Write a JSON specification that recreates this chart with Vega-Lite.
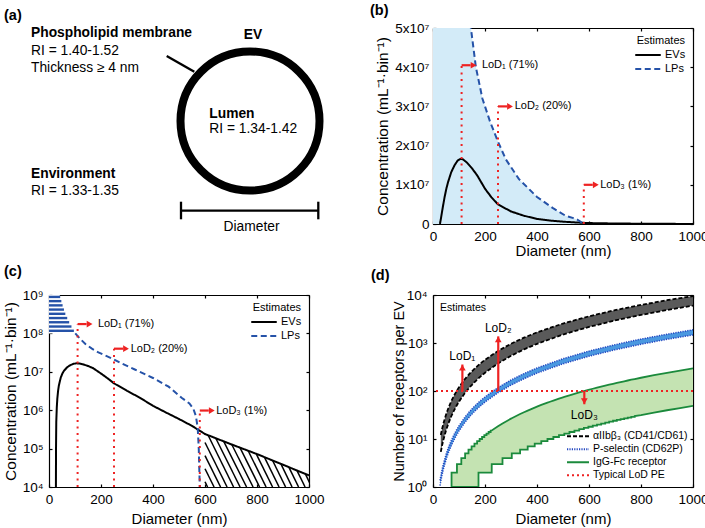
{
  "$schema": "https://vega.github.io/schema/vega-lite/v6.json",
  "padding": {"left": 3, "top": 3, "right": 0, "bottom": 0},
  "bounds": "flush",
  "columns": 2,
  "spacing": {"row": 71, "column": 124},
  "resolve": {"scale": {"color": "independent", "strokeDash": "independent"}},
  "config": {
    "font": "Liberation Sans",
    "view": {"stroke": null},
    "axis": {"domainColor": "#000", "domainWidth": 1.2, "tickColor": "#000", "tickWidth": 1.2, "tickSize": -3, "labelColor": "#000", "titleColor": "#000", "labelFontSize": 13.5, "titleFontSize": 15, "titleFontWeight": "normal", "grid": false, "labelFlush": false, "labelOverlap": false, "zindex": 1, "labelPadding": 8},
    "title": {"anchor": "start", "frame": "group", "fontSize": 14.5, "fontWeight": "bold", "color": "#000"},
    "legend": {"labelFontSize": 11, "titleFontSize": 11, "titleFontWeight": "normal", "labelColor": "#000", "titleColor": "#000", "symbolType": "stroke", "symbolStrokeWidth": 2, "padding": 0}
  },
  "datasets": {
    "aLines": [
      {"u": 117.7, "v": 28, "u2": 145.3, "v2": 43.7},
      {"u": 132, "v": 182.7, "u2": 269.3, "v2": 182.7},
      {"u": 132, "v": 173.7, "u2": 132, "v2": 191.3},
      {"u": 269.3, "v": 173.7, "u2": 269.3, "v2": 191.3}
    ],
    "aCircle": [{"u": 201, "v": 93}],
    "aBoldLeft": [
      {"u": -18, "v": 9, "t": "Phospholipid membrane"},
      {"u": 160.3, "v": 90, "t": "Lumen"},
      {"u": -18, "v": 149.7, "t": "Environment"}
    ],
    "aLeft": [
      {"u": -18, "v": 27, "t": "RI = 1.40-1.52"},
      {"u": -18, "v": 43.7, "t": "Thickness ≥ 4 nm"},
      {"u": 160.3, "v": 105, "t": "RI = 1.34-1.42"},
      {"u": -18, "v": 167, "t": "RI = 1.33-1.35"}
    ],
    "aBoldCenter": [{"u": 204, "v": 11.3, "t": "EV"}],
    "aCenter": [{"u": 202.5, "v": 202.7, "t": "Diameter"}],
    "bc": [
      {"d": 25, "c": 1, "s": "EVs"},
      {"d": 27, "c": 100000, "s": "EVs"},
      {"d": 28, "c": 500000, "s": "EVs"},
      {"d": 30, "c": 1200000, "s": "EVs"},
      {"d": 32, "c": 2000000, "s": "EVs"},
      {"d": 35, "c": 3200000, "s": "EVs"},
      {"d": 38, "c": 4400000, "s": "EVs"},
      {"d": 45, "c": 7000000, "s": "EVs"},
      {"d": 52, "c": 9200000, "s": "EVs"},
      {"d": 58, "c": 10700000, "s": "EVs"},
      {"d": 70, "c": 13200000, "s": "EVs"},
      {"d": 83, "c": 15000000, "s": "EVs"},
      {"d": 95, "c": 16200000, "s": "EVs"},
      {"d": 105, "c": 16600000, "s": "EVs"},
      {"d": 115, "c": 16500000, "s": "EVs"},
      {"d": 130, "c": 15700000, "s": "EVs"},
      {"d": 150, "c": 14200000, "s": "EVs"},
      {"d": 170, "c": 12400000, "s": "EVs"},
      {"d": 200, "c": 9000000, "s": "EVs"},
      {"d": 225, "c": 6800000, "s": "EVs"},
      {"d": 250, "c": 5000000, "s": "EVs"},
      {"d": 300, "c": 3200000, "s": "EVs"},
      {"d": 350, "c": 2100000, "s": "EVs"},
      {"d": 400, "c": 1300000, "s": "EVs"},
      {"d": 450, "c": 870000, "s": "EVs"},
      {"d": 500, "c": 590000, "s": "EVs"},
      {"d": 550, "c": 390000, "s": "EVs"},
      {"d": 580, "c": 290000, "s": "EVs"},
      {"d": 600, "c": 240000, "s": "EVs"},
      {"d": 700, "c": 130000, "s": "EVs"},
      {"d": 800, "c": 72000, "s": "EVs"},
      {"d": 900, "c": 38000, "s": "EVs"},
      {"d": 1000, "c": 20000, "s": "EVs"},
      {"d": 0, "c": 100000000000, "s": "LPs"},
      {"d": 10, "c": 30000000000, "s": "LPs"},
      {"d": 20, "c": 6000000000, "s": "LPs"},
      {"d": 30, "c": 2300000000, "s": "LPs"},
      {"d": 41, "c": 1000000000, "s": "LPs"},
      {"d": 50, "c": 600000000, "s": "LPs"},
      {"d": 63, "c": 320000000, "s": "LPs"},
      {"d": 80, "c": 180000000, "s": "LPs"},
      {"d": 95, "c": 120000000, "s": "LPs"},
      {"d": 101, "c": 100000000, "s": "LPs"},
      {"d": 120, "c": 72000000, "s": "LPs"},
      {"d": 140, "c": 53000000, "s": "LPs"},
      {"d": 165, "c": 40000000, "s": "LPs"},
      {"d": 190, "c": 32000000, "s": "LPs"},
      {"d": 220, "c": 26000000, "s": "LPs"},
      {"d": 250, "c": 21000000, "s": "LPs"},
      {"d": 280, "c": 16500000, "s": "LPs"},
      {"d": 330, "c": 11500000, "s": "LPs"},
      {"d": 400, "c": 6900000, "s": "LPs"},
      {"d": 460, "c": 4100000, "s": "LPs"},
      {"d": 510, "c": 2100000, "s": "LPs"},
      {"d": 540, "c": 1500000, "s": "LPs"},
      {"d": 555, "c": 1100000, "s": "LPs"},
      {"d": 565, "c": 700000, "s": "LPs"},
      {"d": 572, "c": 350000, "s": "LPs"},
      {"d": 576, "c": 100000, "s": "LPs"},
      {"d": 578, "c": 30000, "s": "LPs"},
      {"d": 580, "c": 10000, "s": "LPs"},
      {"d": 582, "c": 1000, "s": "LPs"}
    ],
    "lpTop": [
      {"d": 0, "c": 100000000000, "b8": 100000000},
      {"d": 10, "c": 30000000000, "b8": 100000000},
      {"d": 20, "c": 6000000000, "b8": 100000000},
      {"d": 30, "c": 2300000000, "b8": 100000000},
      {"d": 41, "c": 1000000000, "b8": 100000000},
      {"d": 50, "c": 600000000, "b8": 100000000},
      {"d": 63, "c": 320000000, "b8": 100000000},
      {"d": 80, "c": 180000000, "b8": 100000000},
      {"d": 95, "c": 120000000, "b8": 100000000},
      {"d": 101, "c": 100000000, "b8": 100000000}
    ],
    "lod": [
      {"d": 110, "b0": 0, "b4": 10000, "tb": 40500000, "tc": 175000000, "lx": 188, "lab": "LoD₁ (71%)"},
      {"d": 250, "b0": 0, "b4": 10000, "tb": 30000000, "tc": 40000000, "lx": 314, "lab": "LoD₂ (20%)"},
      {"d": 580, "b0": 0, "b4": 10000, "tb": 10000000, "tc": 980000, "lx": 643, "lab": "LoD₃ (1%)"}
    ],
    "hh": [
      {"x0": 0, "lv": 891000000, "xe": 43},
      {"x0": 0, "lv": 692000000, "xe": 47.5},
      {"x0": 0, "lv": 537000000, "xe": 52.3},
      {"x0": 0, "lv": 417000000, "xe": 57.5},
      {"x0": 0, "lv": 324000000, "xe": 62.8},
      {"x0": 0, "lv": 251000000, "xe": 70.1},
      {"x0": 0, "lv": 195000000, "xe": 77.6},
      {"x0": 0, "lv": 151000000, "xe": 86.4},
      {"x0": 0, "lv": 117000000, "xe": 95.7}
    ],
    "hd": [
      {"k": 0, "d": 600, "c": 13700}, {"k": 0, "d": 610, "c": 10000},
      {"k": 1, "d": 600, "c": 29900}, {"k": 1, "d": 635, "c": 10000},
      {"k": 2, "d": 600, "c": 65600}, {"k": 2, "d": 660, "c": 10000},
      {"k": 3, "d": 600, "c": 144000}, {"k": 3, "d": 685, "c": 10000},
      {"k": 4, "d": 612, "c": 223000}, {"k": 4, "d": 710, "c": 10000},
      {"k": 5, "d": 641.5, "c": 186000}, {"k": 5, "d": 735, "c": 10000},
      {"k": 6, "d": 672, "c": 154000}, {"k": 6, "d": 760, "c": 10000},
      {"k": 7, "d": 703, "c": 128000}, {"k": 7, "d": 785, "c": 10000},
      {"k": 8, "d": 734.5, "c": 106000}, {"k": 8, "d": 810, "c": 10000},
      {"k": 9, "d": 766, "c": 88000}, {"k": 9, "d": 835, "c": 10000},
      {"k": 10, "d": 797, "c": 73000}, {"k": 10, "d": 860, "c": 10000},
      {"k": 11, "d": 828.5, "c": 60000}, {"k": 11, "d": 885, "c": 10000},
      {"k": 12, "d": 860, "c": 49000}, {"k": 12, "d": 910, "c": 10000},
      {"k": 13, "d": 892, "c": 39900}, {"k": 13, "d": 935, "c": 10000},
      {"k": 14, "d": 922, "c": 33300}, {"k": 14, "d": 960, "c": 10000},
      {"k": 15, "d": 953, "c": 27600}, {"k": 15, "d": 985, "c": 10000},
      {"k": 16, "d": 986, "c": 22000}, {"k": 16, "d": 1010, "c": 10000}
    ],
    "band": [
      {"d": 27, "au": null, "al": null, "pu": 1.37, "pl": 1.07},
      {"d": 30, "au": 12.15, "al": 5.41, "pu": 1.69, "pl": 1.33},
      {"d": 35, "au": 16.28, "al": 7.36, "pu": 2.31, "pl": 1.81},
      {"d": 40, "au": 20.98, "al": 9.62, "pu": 3.01, "pl": 2.36},
      {"d": 50, "au": 32.06, "al": 15.02, "pu": 4.71, "pl": 3.69},
      {"d": 60, "au": 45.35, "al": 21.63, "pu": 6.78, "pl": 5.31},
      {"d": 70, "au": 60.76, "al": 29.44, "pu": 9.22, "pl": 7.22},
      {"d": 80, "au": 78.3, "al": 38.46, "pu": 12.05, "pl": 9.43},
      {"d": 90, "au": 97.9, "al": 48.67, "pu": 15.24, "pl": 11.94},
      {"d": 100, "au": 119.7, "al": 60.09, "pu": 18.83, "pl": 14.74},
      {"d": 120, "au": 169.2, "al": 86.5, "pu": 27.11, "pl": 21.23},
      {"d": 140, "au": 226.7, "al": 117.8, "pu": 36.9, "pl": 28.9},
      {"d": 160, "au": 292.2, "al": 153.8, "pu": 48.2, "pl": 37.7},
      {"d": 180, "au": 365.6, "al": 194.7, "pu": 61.0, "pl": 47.8},
      {"d": 200, "au": 446.4, "al": 240.4, "pu": 75.3, "pl": 59.0},
      {"d": 250, "au": 682.3, "al": 375.6, "pu": 117.6, "pl": 92.1},
      {"d": 300, "au": 964.7, "al": 540.8, "pu": 169.4, "pl": 132.7},
      {"d": 350, "au": 1293, "al": 736.2, "pu": 230.6, "pl": 180.6},
      {"d": 400, "au": 1667, "al": 961.6, "pu": 301.3, "pl": 235.9},
      {"d": 500, "au": 2547, "al": 1502, "pu": 470.6, "pl": 368.6},
      {"d": 600, "au": 3601, "al": 2163, "pu": 678, "pl": 531},
      {"d": 700, "au": 4827, "al": 2944, "pu": 922, "pl": 722},
      {"d": 800, "au": 6220, "al": 3846, "pu": 1205, "pl": 943},
      {"d": 900, "au": 7778, "al": 4867, "pu": 1524, "pl": 1194},
      {"d": 1000, "au": 9504, "al": 6009, "pu": 1883, "pl": 1474}
    ],
    "gb": [
      {"d": 71.3, "gu": 1, "gl": 1}, {"d": 71.3, "gu": 2, "gl": 1},
      {"d": 92.1, "gu": 2, "gl": 1}, {"d": 92.1, "gu": 3, "gl": 1},
      {"d": 108.9, "gu": 3, "gl": 1}, {"d": 108.9, "gu": 4, "gl": 1},
      {"d": 123.5, "gu": 4, "gl": 1}, {"d": 123.5, "gu": 5, "gl": 1},
      {"d": 136.5, "gu": 5, "gl": 1}, {"d": 136.5, "gu": 6, "gl": 1},
      {"d": 148.4, "gu": 6, "gl": 1}, {"d": 148.4, "gu": 7, "gl": 1},
      {"d": 159.4, "gu": 7, "gl": 1}, {"d": 159.4, "gu": 8, "gl": 1},
      {"d": 169.7, "gu": 8, "gl": 1}, {"d": 169.7, "gu": 9, "gl": 1},
      {"d": 175, "gu": 9, "gl": 1}, {"d": 175, "gu": 9, "gl": 2},
      {"d": 179.4, "gu": 9, "gl": 2}, {"d": 179.4, "gu": 10, "gl": 2},
      {"d": 188.7, "gu": 10, "gl": 2}, {"d": 188.7, "gu": 11, "gl": 2},
      {"d": 197.4, "gu": 11, "gl": 2}, {"d": 197.4, "gu": 12, "gl": 2},
      {"d": 205.8, "gu": 12, "gl": 2}, {"d": 205.8, "gu": 13, "gl": 2},
      {"d": 213.9, "gu": 13, "gl": 2}, {"d": 213.9, "gu": 14, "gl": 2},
      {"d": 221.7, "gu": 14, "gl": 2}, {"d": 221.7, "gu": 15, "gl": 2},
      {"d": 225.9, "gu": 15.1, "gl": 2}, {"d": 225.9, "gu": 15.1, "gl": 3},
      {"d": 250, "gu": 18.4, "gl": 3},
      {"d": 267.3, "gu": 21.1, "gl": 3}, {"d": 267.3, "gu": 21.1, "gl": 4},
      {"d": 300, "gu": 26.6, "gl": 4},
      {"d": 303, "gu": 27.1, "gl": 4}, {"d": 303, "gu": 27.1, "gl": 5},
      {"d": 335, "gu": 33.1, "gl": 5}, {"d": 335, "gu": 33.1, "gl": 6},
      {"d": 350, "gu": 36.1, "gl": 6},
      {"d": 364.2, "gu": 39.1, "gl": 6}, {"d": 364.2, "gu": 39.1, "gl": 7},
      {"d": 391.2, "gu": 45.1, "gl": 7}, {"d": 391.2, "gu": 45.1, "gl": 8},
      {"d": 400, "gu": 47.2, "gl": 8},
      {"d": 416.5, "gu": 51.2, "gl": 8}, {"d": 416.5, "gu": 51.2, "gl": 9},
      {"d": 440.3, "gu": 57.2, "gl": 9}, {"d": 440.3, "gu": 57.2, "gl": 10},
      {"d": 450, "gu": 59.7, "gl": 10},
      {"d": 462.9, "gu": 63.2, "gl": 10}, {"d": 462.9, "gu": 63.2, "gl": 11},
      {"d": 484.5, "gu": 69.2, "gl": 11}, {"d": 484.5, "gu": 69.2, "gl": 12},
      {"d": 500, "gu": 73.8, "gl": 12},
      {"d": 505.1, "gu": 75.3, "gl": 12}, {"d": 505.1, "gu": 75.3, "gl": 13},
      {"d": 524.9, "gu": 81.3, "gl": 13}, {"d": 524.9, "gu": 81.3, "gl": 14},
      {"d": 544, "gu": 87.3, "gl": 14}, {"d": 544, "gu": 87.3, "gl": 15},
      {"d": 562.4, "gu": 93.3, "gl": 15}, {"d": 562.4, "gu": 93.3, "gl": 16},
      {"d": 580.3, "gu": 99.3, "gl": 16}, {"d": 580.3, "gu": 99.3, "gl": 17},
      {"d": 597.6, "gu": 105.4, "gl": 17}, {"d": 597.6, "gu": 105.4, "gl": 18},
      {"d": 614.5, "gu": 111.4, "gl": 18}, {"d": 614.5, "gu": 111.4, "gl": 19},
      {"d": 630.8, "gu": 117.4, "gl": 19}, {"d": 630.8, "gu": 117.4, "gl": 20},
      {"d": 646.8, "gu": 123.4, "gl": 20}, {"d": 646.8, "gu": 123.4, "gl": 21},
      {"d": 662.4, "gu": 129.4, "gl": 21}, {"d": 662.4, "gu": 129.4, "gl": 22},
      {"d": 677.6, "gu": 135.4, "gl": 22}, {"d": 677.6, "gu": 135.4, "gl": 23},
      {"d": 692.5, "gu": 141.5, "gl": 23}, {"d": 692.5, "gu": 141.5, "gl": 24},
      {"d": 707.1, "gu": 147.5, "gl": 24}, {"d": 707.1, "gu": 147.5, "gl": 25},
      {"d": 721.4, "gu": 153.5, "gl": 25}, {"d": 721.4, "gu": 153.5, "gl": 26},
      {"d": 735.4, "gu": 159.5, "gl": 26}, {"d": 735.4, "gu": 159.5, "gl": 27},
      {"d": 749.1, "gu": 165.5, "gl": 27}, {"d": 749.1, "gu": 165.5, "gl": 28},
      {"d": 762.6, "gu": 171.6, "gl": 28}, {"d": 762.6, "gu": 171.6, "gl": 29},
      {"d": 775.9, "gu": 177.6, "gl": 29}, {"d": 775.9, "gu": 177.6, "gl": 30},
      {"d": 800, "gu": 188.8, "gl": 31.4},
      {"d": 850, "gu": 213.1, "gl": 35.4},
      {"d": 900, "gu": 239, "gl": 39.7},
      {"d": 950, "gu": 266.2, "gl": 44.2},
      {"d": 1000, "gu": 295, "gl": 49}
    ],
    "lodd": [
      {"d": 113, "base": 100, "top": 356, "ly": 533, "lab": "LoD₁"},
      {"d": 251, "base": 100, "top": 1374, "ly": 2055, "lab": "LoD₂"},
      {"d": 582, "base": 100, "top": 53, "ly": 31.4, "lab": "LoD₃"}
    ],
    "est": [{"d": 27, "v": 5300, "t": "Estimates"}],
    "pe": [{"v": 100}],
    "legd": [
      {"s": "αIIbβ₃ (CD41/CD61)", "d": 500, "v": 0.1},
      {"s": "P-selectin (CD62P)", "d": 500, "v": 0.1},
      {"s": "IgG-Fc receptor", "d": 500, "v": 0.1},
      {"s": "Typical LoD PE", "d": 500, "v": 0.1}
    ]
  },
  "concat": [
    {
      "width": 260, "height": 196,
      "title": {"text": "(a)", "dx": -45, "offset": 3},
      "layer": [
        {
          "data": {"name": "aLines"},
          "mark": {"type": "rule", "color": "#000", "strokeWidth": 2.3},
          "encoding": {
            "x": {"field": "u", "type": "quantitative", "scale": {"domain": [0, 260], "nice": false, "zero": false}, "axis": null},
            "y": {"field": "v", "type": "quantitative", "scale": {"domain": [0, 196], "nice": false, "reverse": true}, "axis": null},
            "x2": {"field": "u2"},
            "y2": {"field": "v2"}
          }
        },
        {
          "data": {"name": "aCircle"},
          "mark": {"type": "point", "shape": "circle", "size": 19321, "filled": false, "strokeWidth": 8, "color": "#000", "opacity": 1},
          "encoding": {
            "x": {"field": "u", "type": "quantitative"},
            "y": {"field": "v", "type": "quantitative"}
          }
        },
        {
          "data": {"name": "aBoldLeft"},
          "mark": {"type": "text", "align": "left", "baseline": "alphabetic", "fontSize": 13.8, "fontWeight": "bold", "color": "#000"},
          "encoding": {
            "x": {"field": "u", "type": "quantitative"},
            "y": {"field": "v", "type": "quantitative"},
            "text": {"field": "t"}
          }
        },
        {
          "data": {"name": "aLeft"},
          "mark": {"type": "text", "align": "left", "baseline": "alphabetic", "fontSize": 13.8, "color": "#000"},
          "encoding": {
            "x": {"field": "u", "type": "quantitative"},
            "y": {"field": "v", "type": "quantitative"},
            "text": {"field": "t"}
          }
        },
        {
          "data": {"name": "aBoldCenter"},
          "mark": {"type": "text", "align": "center", "baseline": "alphabetic", "fontSize": 13.8, "fontWeight": "bold", "color": "#000"},
          "encoding": {
            "x": {"field": "u", "type": "quantitative"},
            "y": {"field": "v", "type": "quantitative"},
            "text": {"field": "t"}
          }
        },
        {
          "data": {"name": "aCenter"},
          "mark": {"type": "text", "align": "center", "baseline": "alphabetic", "fontSize": 13.8, "color": "#000"},
          "encoding": {
            "x": {"field": "u", "type": "quantitative"},
            "y": {"field": "v", "type": "quantitative"},
            "text": {"field": "t"}
          }
        }
      ]
    },
    {
      "width": 260, "height": 196,
      "title": {"text": "(b)", "dx": -63, "offset": 2.5},
      "resolve": {"axis": {"x": "independent", "y": "independent"}},
      "layer": [
        {
          "data": {"name": "bc"},
          "transform": [{"filter": "datum.s == 'LPs'"}],
          "mark": {"type": "area", "color": "#d3ebf8", "clip": true},
          "encoding": {
            "x": {"field": "d", "type": "quantitative", "scale": {"domain": [0, 1000], "nice": false, "zero": false}, "axis": {"title": "Diameter (nm)", "values": [0, 200, 400, 600, 800, 1000], "format": "d", "titlePadding": 1}},
            "y": {"field": "c", "type": "quantitative", "scale": {"domain": [0, 50000000], "nice": false}, "axis": {"title": "Concentration (mL⁻¹·bin⁻¹)", "values": [0, 10000000, 20000000, 30000000, 40000000, 50000000], "labelExpr": "datum.value == 0 ? '0' : format(datum.value / 10000000, 'd') + 'x10⁷'", "titleFontSize": 15.5, "titlePadding": 4, "labelPadding": 7}}
          }
        },
        {
          "data": {"name": "bc"},
          "mark": {"type": "line", "strokeWidth": 2, "clip": true},
          "encoding": {
            "x": {"field": "d", "type": "quantitative", "axis": null},
            "y": {"field": "c", "type": "quantitative", "axis": null},
            "color": {"field": "s", "type": "nominal", "scale": {"domain": ["EVs", "LPs"], "range": ["#000000", "#2552a8"]}, "legend": {"title": "Estimates", "orient": "top-right", "offset": 7, "titleAnchor": "end", "symbolSize": 650, "clipHeight": 12, "labelOffset": 3, "rowPadding": 2, "titlePadding": 3}},
            "strokeDash": {"field": "s", "type": "nominal", "scale": {"domain": ["EVs", "LPs"], "range": [[1, 0], [6, 3.5]]}, "legend": {"title": "Estimates", "orient": "top-right", "offset": 7, "titleAnchor": "end", "symbolSize": 650, "clipHeight": 12, "labelOffset": 3, "rowPadding": 2, "titlePadding": 3}}
          }
        },
        {
          "data": {"name": "lod"},
          "mark": {"type": "rule", "color": "#ee2222", "strokeWidth": 2, "strokeDash": [2, 4.5]},
          "encoding": {
            "x": {"field": "d", "type": "quantitative", "axis": null},
            "y": {"field": "b0", "type": "quantitative", "axis": null},
            "y2": {"field": "tb"}
          }
        },
        {
          "data": {"name": "lod"},
          "mark": {"type": "rule", "color": "#ee2222", "strokeWidth": 2.2, "x2Offset": 9},
          "encoding": {
            "x": {"field": "d", "type": "quantitative", "axis": null},
            "x2": {"field": "d"},
            "y": {"field": "tb", "type": "quantitative", "axis": null}
          }
        },
        {
          "data": {"name": "lod"},
          "mark": {"type": "point", "shape": "triangle-right", "filled": true, "color": "#ee2222", "size": 45, "opacity": 1, "xOffset": 12},
          "encoding": {
            "x": {"field": "d", "type": "quantitative", "axis": null},
            "y": {"field": "tb", "type": "quantitative", "axis": null}
          }
        },
        {
          "data": {"name": "lod"},
          "mark": {"type": "text", "align": "left", "baseline": "middle", "fontSize": 11, "color": "#000"},
          "encoding": {
            "x": {"field": "lx", "type": "quantitative", "axis": null},
            "y": {"field": "tb", "type": "quantitative", "axis": null},
            "text": {"field": "lab"}
          }
        },
        {
          "data": {"name": "lod"},
          "mark": {"type": "point", "opacity": 0},
          "encoding": {
            "x": {"field": "d", "type": "quantitative", "axis": {"orient": "top", "labels": false, "title": null, "values": [0, 200, 400, 600, 800, 1000]}},
            "y": {"field": "tb", "type": "quantitative", "axis": {"orient": "right", "labels": false, "title": null, "values": [0, 10000000, 20000000, 30000000, 40000000, 50000000]}}
          }
        }
      ]
    },
    {
      "width": 260, "height": 192,
      "title": {"text": "(c)", "dx": -45, "offset": 9},
      "resolve": {"axis": {"x": "independent", "y": "independent"}},
      "layer": [
        {
          "data": {"name": "bc"},
          "transform": [{"filter": "datum.s == 'LPs'"}],
          "mark": {"type": "area", "color": "#d3ebf8", "clip": true},
          "encoding": {
            "x": {"field": "d", "type": "quantitative", "scale": {"domain": [0, 1000], "nice": false, "zero": false}, "axis": {"title": "Diameter (nm)", "values": [0, 200, 400, 600, 800, 1000], "format": "d", "titlePadding": 6}},
            "y": {"field": "c", "type": "quantitative", "scale": {"type": "log", "domain": [10000, 1000000000], "nice": false}, "axis": {"title": "Concentration (mL⁻¹·bin⁻¹)", "values": [10000, 100000, 1000000, 10000000, 100000000, 1000000000], "labelExpr": "'10' + ['⁰','¹','²','³','⁴','⁵','⁶','⁷','⁸','⁹'][round(log(datum.value) / LN10)]", "titleFontSize": 15.5, "titlePadding": 4, "labelPadding": 9}},
            "y2": {"value": "height"}
          }
        },
        {
          "data": {"name": "lpTop"},
          "mark": {"type": "area", "color": "#ffffff", "clip": true},
          "encoding": {
            "x": {"field": "d", "type": "quantitative", "axis": null},
            "y": {"field": "c", "type": "quantitative", "axis": null},
            "y2": {"field": "b8"}
          }
        },
        {
          "data": {"name": "hd"},
          "mark": {"type": "line", "color": "#000", "strokeWidth": 1.5, "clip": true},
          "encoding": {
            "x": {"field": "d", "type": "quantitative", "axis": null},
            "y": {"field": "c", "type": "quantitative", "axis": null},
            "detail": {"field": "k", "type": "nominal"}
          }
        },
        {
          "data": {"name": "hh"},
          "mark": {"type": "rule", "color": "#2552a8", "strokeWidth": 2.4, "clip": true},
          "encoding": {
            "x": {"field": "x0", "type": "quantitative", "axis": null},
            "x2": {"field": "xe"},
            "y": {"field": "lv", "type": "quantitative", "axis": null}
          }
        },
        {
          "data": {"name": "bc"},
          "transform": [{"filter": "datum.s == 'EVs' || datum.d >= 100"}],
          "mark": {"type": "line", "strokeWidth": 2, "clip": true},
          "encoding": {
            "x": {"field": "d", "type": "quantitative", "axis": null},
            "y": {"field": "c", "type": "quantitative", "axis": null},
            "color": {"field": "s", "type": "nominal", "scale": {"domain": ["EVs", "LPs"], "range": ["#000000", "#2552a8"]}, "legend": {"title": "Estimates", "orient": "top-right", "offset": 7, "titleAnchor": "end", "symbolSize": 650, "clipHeight": 12, "labelOffset": 3, "rowPadding": 2, "titlePadding": 3}},
            "strokeDash": {"field": "s", "type": "nominal", "scale": {"domain": ["EVs", "LPs"], "range": [[1, 0], [6, 3.5]]}, "legend": {"title": "Estimates", "orient": "top-right", "offset": 7, "titleAnchor": "end", "symbolSize": 650, "clipHeight": 12, "labelOffset": 3, "rowPadding": 2, "titlePadding": 3}}
          }
        },
        {
          "data": {"name": "lod"},
          "mark": {"type": "rule", "color": "#ee2222", "strokeWidth": 2, "strokeDash": [2, 4.5]},
          "encoding": {
            "x": {"field": "d", "type": "quantitative", "axis": null},
            "y": {"field": "b4", "type": "quantitative", "axis": null},
            "y2": {"field": "tc"}
          }
        },
        {
          "data": {"name": "lod"},
          "mark": {"type": "rule", "color": "#ee2222", "strokeWidth": 2.2, "x2Offset": 9},
          "encoding": {
            "x": {"field": "d", "type": "quantitative", "axis": null},
            "x2": {"field": "d"},
            "y": {"field": "tc", "type": "quantitative", "axis": null}
          }
        },
        {
          "data": {"name": "lod"},
          "mark": {"type": "point", "shape": "triangle-right", "filled": true, "color": "#ee2222", "size": 45, "opacity": 1, "xOffset": 12},
          "encoding": {
            "x": {"field": "d", "type": "quantitative", "axis": null},
            "y": {"field": "tc", "type": "quantitative", "axis": null}
          }
        },
        {
          "data": {"name": "lod"},
          "mark": {"type": "text", "align": "left", "baseline": "middle", "fontSize": 11, "color": "#000"},
          "encoding": {
            "x": {"field": "lx", "type": "quantitative", "axis": null},
            "y": {"field": "tc", "type": "quantitative", "axis": null},
            "text": {"field": "lab"}
          }
        },
        {
          "data": {"name": "lod"},
          "mark": {"type": "point", "opacity": 0},
          "encoding": {
            "x": {"field": "d", "type": "quantitative", "axis": {"orient": "top", "labels": false, "title": null, "values": [0, 200, 400, 600, 800, 1000]}},
            "y": {"field": "tc", "type": "quantitative", "axis": {"orient": "right", "labels": false, "title": null, "values": [10000, 100000, 1000000, 10000000, 100000000, 1000000000]}}
          }
        }
      ]
    },
    {
      "width": 260, "height": 192,
      "title": {"text": "(d)", "dx": -62, "offset": 5},
      "resolve": {"axis": {"x": "independent", "y": "independent"}},
      "layer": [
        {
          "data": {"name": "gb"},
          "mark": {"type": "area", "color": "#c4e3b2", "clip": true},
          "encoding": {
            "x": {"field": "d", "type": "quantitative", "scale": {"domain": [0, 1000], "nice": false, "zero": false}, "axis": {"title": "Diameter (nm)", "values": [0, 200, 400, 600, 800, 1000], "format": "d", "titlePadding": 6}},
            "y": {"field": "gu", "type": "quantitative", "scale": {"type": "log", "domain": [1, 10000], "nice": false}, "axis": {"title": "Number of receptors per EV", "values": [1, 10, 100, 1000, 10000], "labelExpr": "'10' + ['⁰','¹','²','³','⁴','⁵','⁶','⁷','⁸','⁹'][round(log(datum.value) / LN10)]", "titleFontSize": 14.5, "titlePadding": 0, "labelPadding": 9}},
            "y2": {"field": "gl"},
            "order": {"value": null}
          }
        },
        {
          "data": {"name": "band"},
          "transform": [{"filter": "isValid(datum.au)"}],
          "mark": {"type": "area", "color": "#5a5a5a", "clip": true},
          "encoding": {
            "x": {"field": "d", "type": "quantitative", "axis": null},
            "y": {"field": "au", "type": "quantitative", "axis": null},
            "y2": {"field": "al"}
          }
        },
        {
          "data": {"name": "band"},
          "mark": {"type": "area", "color": "#4a98e0", "clip": true},
          "encoding": {
            "x": {"field": "d", "type": "quantitative", "axis": null},
            "y": {"field": "pu", "type": "quantitative", "axis": null},
            "y2": {"field": "pl"}
          }
        },
        {
          "data": {"name": "band"},
          "transform": [{"fold": ["au", "al"]}],
          "mark": {"type": "line", "color": "#000000", "strokeWidth": 1.8, "strokeDash": [4, 2], "clip": true},
          "encoding": {
            "x": {"field": "d", "type": "quantitative", "axis": null},
            "y": {"field": "value", "type": "quantitative", "axis": null},
            "detail": {"field": "key", "type": "nominal"}
          }
        },
        {
          "data": {"name": "band"},
          "transform": [{"fold": ["pu", "pl"]}],
          "mark": {"type": "line", "color": "#2347c0", "strokeWidth": 1.5, "strokeDash": [1.2, 1.2], "clip": true},
          "encoding": {
            "x": {"field": "d", "type": "quantitative", "axis": null},
            "y": {"field": "value", "type": "quantitative", "axis": null},
            "detail": {"field": "key", "type": "nominal"}
          }
        },
        {
          "data": {"name": "gb"},
          "transform": [{"fold": ["gu", "gl"]}],
          "mark": {"type": "line", "color": "#1b8a3c", "strokeWidth": 1.8, "clip": true},
          "encoding": {
            "x": {"field": "d", "type": "quantitative", "axis": null},
            "y": {"field": "value", "type": "quantitative", "axis": null},
            "detail": {"field": "key", "type": "nominal"},
            "order": {"value": null}
          }
        },
        {
          "data": {"name": "pe"},
          "mark": {"type": "rule", "color": "#ee2222", "strokeWidth": 2, "strokeDash": [2, 3]},
          "encoding": {
            "y": {"field": "v", "type": "quantitative", "axis": null}
          }
        },
        {
          "data": {"name": "lodd"},
          "mark": {"type": "rule", "color": "#ee2222", "strokeWidth": 2.2},
          "encoding": {
            "x": {"field": "d", "type": "quantitative", "axis": null},
            "y": {"field": "base", "type": "quantitative", "axis": null},
            "y2": {"field": "top"}
          }
        },
        {
          "data": {"name": "lodd"},
          "transform": [{"filter": "datum.top > 100"}],
          "mark": {"type": "point", "shape": "triangle-up", "filled": true, "color": "#ee2222", "size": 45, "opacity": 1, "yOffset": 3},
          "encoding": {
            "x": {"field": "d", "type": "quantitative", "axis": null},
            "y": {"field": "top", "type": "quantitative", "axis": null}
          }
        },
        {
          "data": {"name": "lodd"},
          "transform": [{"filter": "datum.top < 100"}],
          "mark": {"type": "point", "shape": "triangle-down", "filled": true, "color": "#ee2222", "size": 45, "opacity": 1, "yOffset": -3},
          "encoding": {
            "x": {"field": "d", "type": "quantitative", "axis": null},
            "y": {"field": "top", "type": "quantitative", "axis": null}
          }
        },
        {
          "data": {"name": "lodd"},
          "mark": {"type": "text", "align": "center", "baseline": "middle", "fontSize": 12, "color": "#000"},
          "encoding": {
            "x": {"field": "d", "type": "quantitative", "axis": null},
            "y": {"field": "ly", "type": "quantitative", "axis": null},
            "text": {"field": "lab"}
          }
        },
        {
          "data": {"name": "est"},
          "mark": {"type": "text", "align": "left", "baseline": "middle", "fontSize": 10.5, "color": "#000"},
          "encoding": {
            "x": {"field": "d", "type": "quantitative", "axis": null},
            "y": {"field": "v", "type": "quantitative", "axis": null},
            "text": {"field": "t"}
          }
        },
        {
          "data": {"name": "legd"},
          "mark": {"type": "line", "clip": true},
          "encoding": {
            "x": {"field": "d", "type": "quantitative", "axis": null},
            "y": {"field": "v", "type": "quantitative", "axis": null},
            "color": {"field": "s", "type": "nominal", "scale": {"domain": ["αIIbβ₃ (CD41/CD61)", "P-selectin (CD62P)", "IgG-Fc receptor", "Typical LoD PE"], "range": ["#000000", "#2347c0", "#1b8a3c", "#ee2222"]}, "legend": {"title": null, "orient": "bottom-right", "offset": 5, "symbolSize": 484, "clipHeight": 12.3, "labelOffset": 3, "rowPadding": 0, "labelFontSize": 10.5}},
            "strokeDash": {"field": "s", "type": "nominal", "scale": {"domain": ["αIIbβ₃ (CD41/CD61)", "P-selectin (CD62P)", "IgG-Fc receptor", "Typical LoD PE"], "range": [[4, 2], [1.2, 1.2], [1, 0], [2, 3]]}, "legend": {"title": null, "orient": "bottom-right", "offset": 5, "symbolSize": 484, "clipHeight": 12.3, "labelOffset": 3, "rowPadding": 0, "labelFontSize": 10.5}}
          }
        },
        {
          "data": {"name": "lodd"},
          "mark": {"type": "point", "opacity": 0},
          "encoding": {
            "x": {"field": "d", "type": "quantitative", "axis": {"orient": "top", "labels": false, "title": null, "values": [0, 200, 400, 600, 800, 1000]}},
            "y": {"field": "top", "type": "quantitative", "axis": {"orient": "right", "labels": false, "title": null, "values": [1, 10, 100, 1000, 10000]}}
          }
        }
      ]
    }
  ]
}
